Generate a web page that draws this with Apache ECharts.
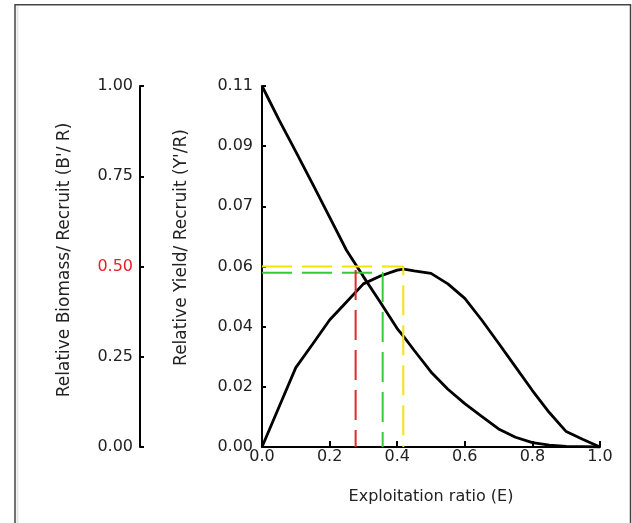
<!DOCTYPE html>
<html>
<head>
<meta charset="utf-8">
<script src="https://cdn.jsdelivr.net/npm/echarts@6/dist/echarts.min.js"></script>
<style>
  html, body { margin: 0; padding: 0; background: #fff; }
  #chart { width: 632px; height: 523px; }
</style>
</head>
<body>
<div id="chart"></div>
<script>
// Exploitation ratio grid (E)
const exploitation = [0, 0.05, 0.10, 0.15, 0.20, 0.25, 0.30, 0.35, 0.40, 0.42, 0.45, 0.50,
  0.55, 0.60, 0.65, 0.70, 0.75, 0.80, 0.85, 0.90, 0.95, 1.00];

// Relative yield per recruit (Y'/R)
const yieldPerRecruit = [0, 0.0121, 0.0242, 0.0314, 0.0387, 0.0442, 0.0497, 0.0521, 0.0539, 0.0542,
  0.0537, 0.0529, 0.0497, 0.0453, 0.0387, 0.0316, 0.0244, 0.0172, 0.0105, 0.0047, 0.0023, 0];

// Relative biomass per recruit (B'/R)
const biomassPerRecruit = [1.000, 0.907, 0.818, 0.728, 0.637, 0.545, 0.472, 0.401, 0.328, 0.305,
  0.268, 0.208, 0.160, 0.120, 0.085, 0.050, 0.027, 0.012, 0.005, 0.002, 0.001, 0];

// Reference points
const eMax = 0.418;     // E at maximum Y'/R
const yMax = 0.055;
const e10 = 0.357;      // E0.1
const y10 = 0.0531;
const e50 = 0.277;      // E0.5
const b50 = 0.49;

// Axis ticks
const yieldMax = 0.11;
const yieldTickLabels = ['0.00', '0.02', '0.04', '0.06', '0.07', '0.09', '0.11'];
const yieldStep = yieldMax / (yieldTickLabels.length - 1);
const biomassTicks = [0, 0.25, 0.5, 0.75, 1];
const xTicks = [0, 0.2, 0.4, 0.6, 0.8, 1.0];

const FONT = 'DejaVu Sans';
const TEXT = '#222';

const pairs = (xs, ys) => xs.map((x, i) => [x, ys[i]]);

const chart = echarts.init(document.getElementById('chart'), null, { renderer: 'canvas' });

const dashed = (color) => ({ color: color, width: 2, type: [30, 10] });
const blackLine = { show: true, onZero: false, lineStyle: { color: '#000', width: 2 } };

chart.setOption({
  animation: false,
  backgroundColor: '#fff',
  grid: { left: 262, right: 32, top: 86, bottom: 76, containLabel: false, outerBoundsMode: 'none' },
  xAxis: {
    type: 'value',
    min: xTicks[0],
    max: xTicks[xTicks.length - 1],
    interval: xTicks[1] - xTicks[0],
    axisLine: blackLine,
    axisTick: { show: true, inside: true, length: 6, lineStyle: { color: '#000', width: 2 } },
    axisLabel: { margin: 2, fontSize: 16, fontFamily: FONT, color: TEXT,
      formatter: v => v.toFixed(1) },
    splitLine: { show: false },
    name: 'Exploitation ratio (E)',
    nameLocation: 'middle',
    nameGap: 42,
    nameTextStyle: { fontSize: 16, fontFamily: FONT, color: TEXT }
  },
  yAxis: [
    {
      type: 'value',
      position: 'left',
      offset: 122,
      min: biomassTicks[0],
      max: biomassTicks[biomassTicks.length - 1],
      interval: biomassTicks[1] - biomassTicks[0],
      axisLine: blackLine,
      axisTick: { show: true, inside: true, length: 4, lineStyle: { color: '#000', width: 2 } },
      axisLabel: {
        margin: 7, fontSize: 16, fontFamily: FONT, color: TEXT,
        formatter: v => (Math.abs(v - 0.5) < 1e-9 ? '{r|' + v.toFixed(2) + '}' : v.toFixed(2)),
        rich: { r: { color: '#e8202a', fontSize: 16, fontFamily: FONT } }
      },
      splitLine: { show: false },
      name: "Relative Biomass/ Recruit (B'/ R)",
      nameLocation: 'middle',
      nameGap: 67,
      nameTextStyle: { fontSize: 17, fontFamily: FONT, color: TEXT, padding: [0, 0, 0, 13] }
    },
    {
      type: 'value',
      position: 'left',
      offset: 0,
      min: 0,
      max: yieldMax,
      interval: yieldStep,
      axisLine: blackLine,
      axisTick: { show: true, inside: true, length: 4, lineStyle: { color: '#000', width: 2 } },
      axisLabel: {
        margin: 9, fontSize: 16, fontFamily: FONT, color: TEXT,
        formatter: v => yieldTickLabels[Math.round(v / yieldStep)]
      },
      splitLine: { show: false },
      name: "Relative Yield/ Recruit (Y'/R)",
      nameLocation: 'middle',
      nameGap: 72,
      nameTextStyle: { fontSize: 17, fontFamily: FONT, color: TEXT, padding: [0, 0, 0, 38] }
    }
  ],
  series: [
    {
      name: "B'/R",
      type: 'line',
      yAxisIndex: 0,
      data: pairs(exploitation, biomassPerRecruit),
      showSymbol: false,
      lineStyle: { color: '#000', width: 2.8 },
      z: 2
    },
    {
      name: "Y'/R",
      type: 'line',
      yAxisIndex: 1,
      data: pairs(exploitation, yieldPerRecruit),
      showSymbol: false,
      lineStyle: { color: '#000', width: 2.8 },
      z: 2
    },
    {
      name: 'Emax',
      type: 'line',
      yAxisIndex: 1,
      data: [[0, yMax], [eMax, yMax], [eMax, 0]],
      showSymbol: false,
      lineStyle: dashed('#f5e400'),
      z: 3
    },
    {
      name: 'E0.1',
      type: 'line',
      yAxisIndex: 1,
      data: [[0, y10], [e10, y10], [e10, 0]],
      showSymbol: false,
      lineStyle: dashed('#33cc33'),
      z: 3
    },
    {
      name: 'E0.5',
      type: 'line',
      yAxisIndex: 0,
      data: [[e50, b50], [e50, 0]],
      showSymbol: false,
      lineStyle: dashed('#dd2a2a'),
      z: 3
    }
  ],
  graphic: [
    {
      type: 'rect',
      silent: true,
      shape: { x: 15, y: 4.75, width: 615.5, height: 560 },
      style: { fill: 'none', stroke: '#444', lineWidth: 1.5 }
    },
    {
      type: 'line',
      silent: true,
      shape: { x1: 17.5, y1: 6, x2: 17.5, y2: 523 },
      style: { stroke: '#e6e6e6', lineWidth: 2 }
    }
  ]
});
</script>
</body>
</html>
